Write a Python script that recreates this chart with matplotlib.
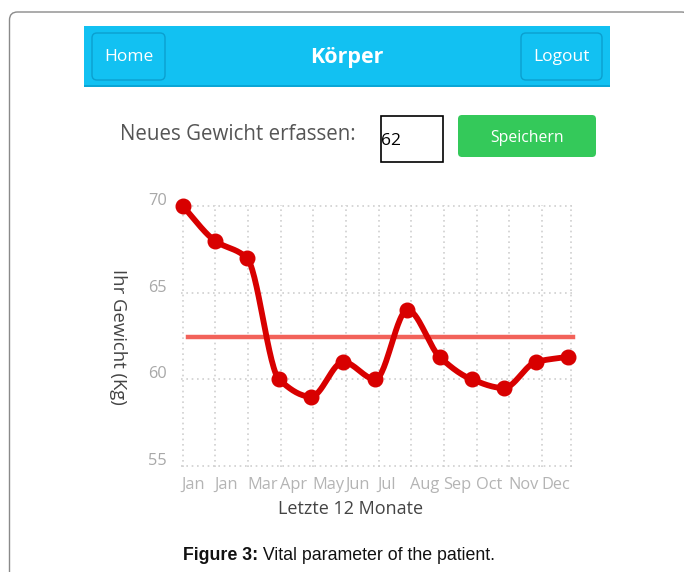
import numpy as np
import matplotlib
matplotlib.use("Agg")
import matplotlib.pyplot as plt
from matplotlib.patches import FancyBboxPatch, Rectangle
from matplotlib.transforms import ScaledTranslation

plt.rcParams['font.family'] = ['Open Sans', 'DejaVu Sans']

# data
months = ["Jan", "Jan", "Mar", "Apr", "May", "Jun", "Jul", "Aug", "Sep", "Oct", "Nov", "Dec"]
weights = [70.0, 68.0, 67.0, 60.0, 59.0, 61.0, 60.0, 64.0, 61.3, 60.0, 59.5, 61.0, 61.3]
y_ticks = [55, 60, 65, 70]
input_value = "62"

W, H = 684, 572
TICK_STEP = 1.017   # month gridlines are a bit wider than the point spacing
X_RIGHT = 12.1

RED = "#d80000"
AVG = "#f2625a"
CYAN = "#12c1f2"
GREEN = "#34c95a"


def monotone_curve(x, y, n=30):
    """Monotone cubic (Fritsch-Carlson) just to draw the smoothed line."""
    x = np.asarray(x, float)
    y = np.asarray(y, float)
    h = np.diff(x)
    d = np.diff(y) / h
    m = np.zeros_like(y)
    m[0], m[-1] = d[0], d[-1]
    for k in range(1, len(x) - 1):
        if d[k - 1] * d[k] <= 0:
            m[k] = 0
        else:
            w1 = 2 * h[k] + h[k - 1]
            w2 = h[k] + 2 * h[k - 1]
            m[k] = (w1 + w2) / (w1 / d[k - 1] + w2 / d[k])
    xs, ys = [], []
    for k in range(len(x) - 1):
        t = np.linspace(0, 1, n, endpoint=False)
        h00 = 2 * t**3 - 3 * t**2 + 1
        h10 = t**3 - 2 * t**2 + t
        h01 = -2 * t**3 + 3 * t**2
        h11 = t**3 - t**2
        xs.append(x[k] + t * h[k])
        ys.append(h00 * y[k] + h10 * h[k] * m[k] + h01 * y[k + 1] + h11 * h[k] * m[k + 1])
    xs.append([x[-1]])
    ys.append([y[-1]])
    return np.concatenate(xs), np.concatenate(ys)


fig = plt.figure(figsize=(W / 100, H / 100), dpi=100)

# background "page" axes in pixel coordinates
bg = fig.add_axes([0, 0, 1, 1])
bg.set_xlim(0, W)
bg.set_ylim(H, 0)
bg.axis('off')

# outer card border (right side runs off the picture)
bg.add_patch(FancyBboxPatch((9.5, 12), 680, 620, boxstyle="round,pad=0,rounding_size=8",
                            fc="white", ec="#8a8a8a", lw=1.0))

# header bar
bg.add_patch(Rectangle((84, 26), 526, 61, fc=CYAN, ec="none"))
bg.add_patch(Rectangle((84, 85), 526, 2, fc="#0aa6d6", ec="none"))
for x0, w, label in [(92, 73, "Home"), (521, 81, "Logout")]:
    bg.add_patch(FancyBboxPatch((x0, 33), w, 47, boxstyle="round,pad=0,rounding_size=5",
                                fc=CYAN, ec="#0b9fcf", lw=1.0))
    bg.text(x0 + w / 2, 57, label, color="white", fontsize=12.5, ha="center", va="center")
bg.text(347, 58, "Körper", color="white", fontsize=15.5, fontweight="bold", ha="center", va="center")

# input row
bg.text(120, 135, "Neues Gewicht erfassen:", color="#555555", fontsize=14.8, ha="left", va="center")
bg.add_patch(Rectangle((380.5, 115.5), 62, 46, fc="white", ec="black", lw=1.2))
bg.text(381, 141, input_value, color="black", fontsize=12.5, ha="left", va="center")
bg.add_patch(FancyBboxPatch((458, 115), 138, 42, boxstyle="round,pad=0,rounding_size=4",
                            fc=GREEN, ec="none"))
bg.text(527, 138, "Speichern", color="white", fontsize=11.3, ha="center", va="center")

# axis titles
bg.text(118, 337, "Ihr Gewicht (Kg)", color="#444444", fontsize=13.3, rotation=270,
        ha="center", va="center")
bg.text(351, 509, "Letzte 12 Monate", color="#444444", fontsize=13, ha="center", va="center")

# caption
cap = bg.text(183, 556, "Figure 3:", fontsize=12.8, fontweight="bold", family="Liberation Sans",
              ha="left", va="center", color="#111111")
bg.annotate(" Vital parameter of the patient.", xy=(1, 0.5), xycoords=cap, fontsize=12.8,
            family="Liberation Sans", ha="left", va="center", color="#111111")

# chart axes placed in pixel space
x0_px = 182.7
unit = 32.11
xlim = (-0.05, X_RIGHT + 0.05)
ylim = (54.95, 70.05)
top_px, bot_px = 206, 466
ypx = (bot_px - top_px) / 15.0
left = x0_px + xlim[0] * unit
right = x0_px + xlim[1] * unit
bottom = bot_px + (55 - ylim[0]) * ypx
top = top_px - (ylim[1] - 70) * ypx
ax = fig.add_axes([left / W, 1 - bottom / H, (right - left) / W, (bottom - top) / H])
ax.set_facecolor("none")
ax.set_xlim(*xlim)
ax.set_ylim(*ylim)
for s in ax.spines.values():
    s.set_visible(False)

tick_pos = np.arange(len(months)) * TICK_STEP
ax.set_xticks(tick_pos)
ax.set_xticklabels(months, ha="left", color="#b4b4b4", fontsize=11.8)
ax.set_yticks(y_ticks)
ax.set_yticklabels([str(v) for v in y_ticks], color="#a8a8a8", fontsize=11.8)
ax.tick_params(axis="both", length=0)
ax.tick_params(axis="x", pad=7)
ax.tick_params(axis="y", pad=10)
for lab in ax.get_yticklabels():
    lab.set_transform(lab.get_transform() + ScaledTranslation(0, 0.07, fig.dpi_scale_trans))
for lab in ax.get_xticklabels():
    lab.set_transform(lab.get_transform() + ScaledTranslation(-0.01, 0, fig.dpi_scale_trans))

grid_kw = dict(color="#cfcfcf", lw=1.2, ls=(0, (1, 2.2)), zorder=0)
ax.grid(True, **grid_kw)
ax.axvline(X_RIGHT, **grid_kw)

# series
xs = np.arange(len(weights))
cx, cy = monotone_curve(xs, weights)
ax.plot(cx, cy, color=RED, lw=4.2, solid_capstyle="round", solid_joinstyle="round",
        zorder=3, clip_on=False)
ax.plot(xs, weights, "o", color=RED, ms=10.5, zorder=4, clip_on=False)

avg = np.mean(weights)
ax.plot([0.17, X_RIGHT + 0.07], [avg, avg], color=AVG, lw=3.2, zorder=2, clip_on=False)

fig.savefig("out.png", dpi=100)
